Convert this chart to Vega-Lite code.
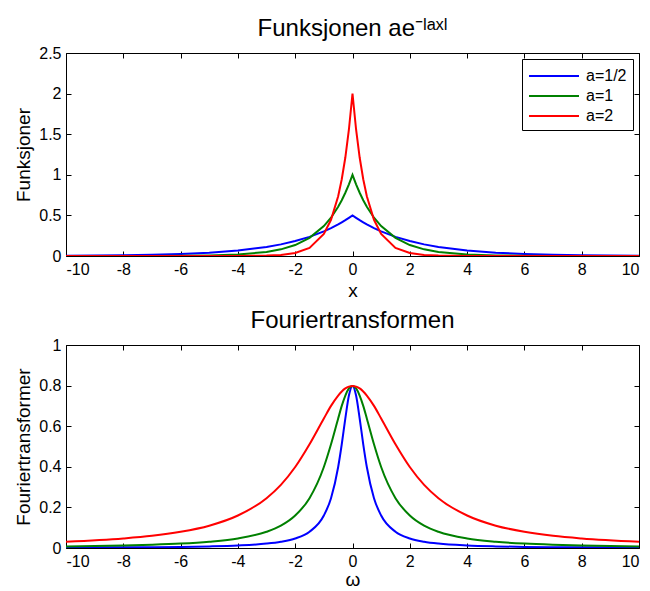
{
  "$schema": "https://vega.github.io/schema/vega-lite/v6.json",
  "background": "white",
  "padding": {"left": 14, "top": 16, "right": 8, "bottom": 0},
  "spacing": 7,
  "config": {
    "font": "Liberation Sans",
    "view": {"stroke": "black", "strokeWidth": 1},
    "axis": {"domain": false, "grid": false, "tickColor": "black", "tickSize": -5, "labelColor": "black", "labelFontSize": 16, "labelPadding": 10, "titleFontSize": 19, "titleFontWeight": "normal", "titleColor": "black", "labelFont": "Liberation Sans", "titleFont": "Liberation Sans", "labelExpr": "'' + datum.value"},
    "title": {"fontSize": 24, "fontWeight": "normal", "color": "black", "font": "Liberation Sans", "offset": 0},
    "legend": {"labelFontSize": 16, "labelColor": "black", "labelFont": "Liberation Sans"}
  },
  "datasets": {
    "top": [
      {"x": -10, "a=1/2": 0.003, "a=1": 0.00005, "a=2": 0},
      {"x": -8, "a=1/2": 0.009, "a=1": 0.0003, "a=2": 0},
      {"x": -7, "a=1/2": 0.015, "a=1": 0.0009, "a=2": 0},
      {"x": -6, "a=1/2": 0.025, "a=1": 0.0025, "a=2": 0},
      {"x": -5, "a=1/2": 0.041, "a=1": 0.007, "a=2": 0.0001},
      {"x": -4, "a=1/2": 0.068, "a=1": 0.018, "a=2": 0.0007},
      {"x": -3, "a=1/2": 0.112, "a=1": 0.05, "a=2": 0.005},
      {"x": -2.5, "a=1/2": 0.143, "a=1": 0.082, "a=2": 0.013},
      {"x": -2, "a=1/2": 0.184, "a=1": 0.135, "a=2": 0.037},
      {"x": -1.5, "a=1/2": 0.236, "a=1": 0.223, "a=2": 0.1},
      {"x": -1, "a=1/2": 0.303, "a=1": 0.368, "a=2": 0.271},
      {"x": -0.75, "a=1/2": 0.344, "a=1": 0.472, "a=2": 0.446},
      {"x": -0.5, "a=1/2": 0.389, "a=1": 0.607, "a=2": 0.736},
      {"x": -0.375, "a=1/2": 0.415, "a=1": 0.687, "a=2": 0.945},
      {"x": -0.25, "a=1/2": 0.441, "a=1": 0.779, "a=2": 1.213},
      {"x": -0.125, "a=1/2": 0.47, "a=1": 0.8825, "a=2": 1.558},
      {"x": 0, "a=1/2": 0.5, "a=1": 1, "a=2": 2},
      {"x": 0.125, "a=1/2": 0.47, "a=1": 0.8825, "a=2": 1.558},
      {"x": 0.25, "a=1/2": 0.441, "a=1": 0.779, "a=2": 1.213},
      {"x": 0.375, "a=1/2": 0.415, "a=1": 0.687, "a=2": 0.945},
      {"x": 0.5, "a=1/2": 0.389, "a=1": 0.607, "a=2": 0.736},
      {"x": 0.75, "a=1/2": 0.344, "a=1": 0.472, "a=2": 0.446},
      {"x": 1, "a=1/2": 0.303, "a=1": 0.368, "a=2": 0.271},
      {"x": 1.5, "a=1/2": 0.236, "a=1": 0.223, "a=2": 0.1},
      {"x": 2, "a=1/2": 0.184, "a=1": 0.135, "a=2": 0.037},
      {"x": 2.5, "a=1/2": 0.143, "a=1": 0.082, "a=2": 0.013},
      {"x": 3, "a=1/2": 0.112, "a=1": 0.05, "a=2": 0.005},
      {"x": 4, "a=1/2": 0.068, "a=1": 0.018, "a=2": 0.0007},
      {"x": 5, "a=1/2": 0.041, "a=1": 0.007, "a=2": 0.0001},
      {"x": 6, "a=1/2": 0.025, "a=1": 0.0025, "a=2": 0},
      {"x": 7, "a=1/2": 0.015, "a=1": 0.0009, "a=2": 0},
      {"x": 8, "a=1/2": 0.009, "a=1": 0.0003, "a=2": 0},
      {"x": 10, "a=1/2": 0.003, "a=1": 0.00005, "a=2": 0}
    ],
    "bottom": [
      {"x": -10, "a=1/2": 0.002, "a=1": 0.0079, "a=2": 0.031},
      {"x": -8, "a=1/2": 0.0031, "a=1": 0.0123, "a=2": 0.047},
      {"x": -7, "a=1/2": 0.0041, "a=1": 0.016, "a=2": 0.06},
      {"x": -6, "a=1/2": 0.0055, "a=1": 0.0216, "a=2": 0.08},
      {"x": -5, "a=1/2": 0.0079, "a=1": 0.031, "a=2": 0.11},
      {"x": -4, "a=1/2": 0.0123, "a=1": 0.047, "a=2": 0.16},
      {"x": -3, "a=1/2": 0.0216, "a=1": 0.08, "a=2": 0.2455},
      {"x": -2.5, "a=1/2": 0.031, "a=1": 0.11, "a=2": 0.311},
      {"x": -2, "a=1/2": 0.047, "a=1": 0.16, "a=2": 0.399},
      {"x": -1.5, "a=1/2": 0.08, "a=1": 0.2455, "a=2": 0.511},
      {"x": -1, "a=1/2": 0.16, "a=1": 0.399, "a=2": 0.638},
      {"x": -0.75, "a=1/2": 0.2455, "a=1": 0.511, "a=2": 0.7},
      {"x": -0.5, "a=1/2": 0.399, "a=1": 0.638, "a=2": 0.751},
      {"x": -0.375, "a=1/2": 0.511, "a=1": 0.7, "a=2": 0.771},
      {"x": -0.25, "a=1/2": 0.638, "a=1": 0.751, "a=2": 0.786},
      {"x": -0.125, "a=1/2": 0.751, "a=1": 0.786, "a=2": 0.795},
      {"x": 0, "a=1/2": 0.798, "a=1": 0.798, "a=2": 0.798},
      {"x": 0.125, "a=1/2": 0.751, "a=1": 0.786, "a=2": 0.795},
      {"x": 0.25, "a=1/2": 0.638, "a=1": 0.751, "a=2": 0.786},
      {"x": 0.375, "a=1/2": 0.511, "a=1": 0.7, "a=2": 0.771},
      {"x": 0.5, "a=1/2": 0.399, "a=1": 0.638, "a=2": 0.751},
      {"x": 0.75, "a=1/2": 0.2455, "a=1": 0.511, "a=2": 0.7},
      {"x": 1, "a=1/2": 0.16, "a=1": 0.399, "a=2": 0.638},
      {"x": 1.5, "a=1/2": 0.08, "a=1": 0.2455, "a=2": 0.511},
      {"x": 2, "a=1/2": 0.047, "a=1": 0.16, "a=2": 0.399},
      {"x": 2.5, "a=1/2": 0.031, "a=1": 0.11, "a=2": 0.311},
      {"x": 3, "a=1/2": 0.0216, "a=1": 0.08, "a=2": 0.2455},
      {"x": 4, "a=1/2": 0.0123, "a=1": 0.047, "a=2": 0.16},
      {"x": 5, "a=1/2": 0.0079, "a=1": 0.031, "a=2": 0.11},
      {"x": 6, "a=1/2": 0.0055, "a=1": 0.0216, "a=2": 0.08},
      {"x": 7, "a=1/2": 0.0041, "a=1": 0.016, "a=2": 0.06},
      {"x": 8, "a=1/2": 0.0031, "a=1": 0.0123, "a=2": 0.047},
      {"x": 10, "a=1/2": 0.002, "a=1": 0.0079, "a=2": 0.031}
    ]
  },
  "resolve": {"scale": {"color": "independent"}},
  "vconcat": [
    {
      "title": {"text": "Funksjonen ae⁻ˡᵃˣˡ"},
      "width": 573,
      "height": 203,
      "data": {"name": "top"},
      "transform": [{"fold": ["a=1/2", "a=1", "a=2"], "as": ["a", "y"]}],
      "layer": [
        {
          "mark": {"type": "line", "strokeWidth": 2, "clip": true},
          "encoding": {
            "x": {"field": "x", "type": "quantitative", "scale": {"domain": [-10, 10], "nice": false}, "axis": {"orient": "bottom", "values": [-10, -8, -6, -4, -2, 0, 2, 4, 6, 8, 10], "title": "x", "titlePadding": 4}},
            "y": {"field": "y", "type": "quantitative", "scale": {"domain": [0, 2.5], "nice": false}, "axis": {"orient": "left", "values": [0, 0.5, 1, 1.5, 2, 2.5], "title": "Funksjoner", "titlePadding": 5}},
            "color": {"field": "a", "type": "nominal", "scale": {"domain": ["a=1/2", "a=1", "a=2"], "range": ["#0000FF", "#008000", "#FF0000"]}, "legend": {"title": null, "orient": "top-right", "offset": 6, "strokeColor": "black", "fillColor": "white", "padding": 6, "symbolType": "M-1,0H4", "symbolSize": 400, "symbolStrokeWidth": 2, "rowPadding": 1, "labelOffset": 36}}
          }
        },
        {
          "mark": {"type": "line", "opacity": 0},
          "encoding": {
            "x": {"field": "x", "type": "quantitative", "axis": {"orient": "top", "values": [-10, -8, -6, -4, -2, 0, 2, 4, 6, 8, 10], "labels": false, "title": null}},
            "y": {"field": "y", "type": "quantitative", "axis": {"orient": "right", "values": [0, 0.5, 1, 1.5, 2, 2.5], "labels": false, "title": null}}
          }
        }
      ],
      "resolve": {"axis": {"x": "independent", "y": "independent"}}
    },
    {
      "title": {"text": "Fouriertransformen"},
      "width": 573,
      "height": 203,
      "data": {"name": "bottom"},
      "transform": [{"fold": ["a=1/2", "a=1", "a=2"], "as": ["a", "y"]}],
      "layer": [
        {
          "mark": {"type": "line", "strokeWidth": 2, "clip": true, "interpolate": "monotone"},
          "encoding": {
            "x": {"field": "x", "type": "quantitative", "scale": {"domain": [-10, 10], "nice": false}, "axis": {"orient": "bottom", "values": [-10, -8, -6, -4, -2, 0, 2, 4, 6, 8, 10], "title": "ω", "titlePadding": 1}},
            "y": {"field": "y", "type": "quantitative", "scale": {"domain": [0, 1], "nice": false}, "axis": {"orient": "left", "values": [0, 0.2, 0.4, 0.6, 0.8, 1], "title": "Fouriertransformer", "titlePadding": 5}},
            "color": {"field": "a", "type": "nominal", "scale": {"domain": ["a=1/2", "a=1", "a=2"], "range": ["#0000FF", "#008000", "#FF0000"]}, "legend": null}
          }
        },
        {
          "mark": {"type": "line", "opacity": 0},
          "encoding": {
            "x": {"field": "x", "type": "quantitative", "axis": {"orient": "top", "values": [-10, -8, -6, -4, -2, 0, 2, 4, 6, 8, 10], "labels": false, "title": null}},
            "y": {"field": "y", "type": "quantitative", "axis": {"orient": "right", "values": [0, 0.2, 0.4, 0.6, 0.8, 1], "labels": false, "title": null}}
          }
        }
      ],
      "resolve": {"axis": {"x": "independent", "y": "independent"}}
    }
  ]
}
